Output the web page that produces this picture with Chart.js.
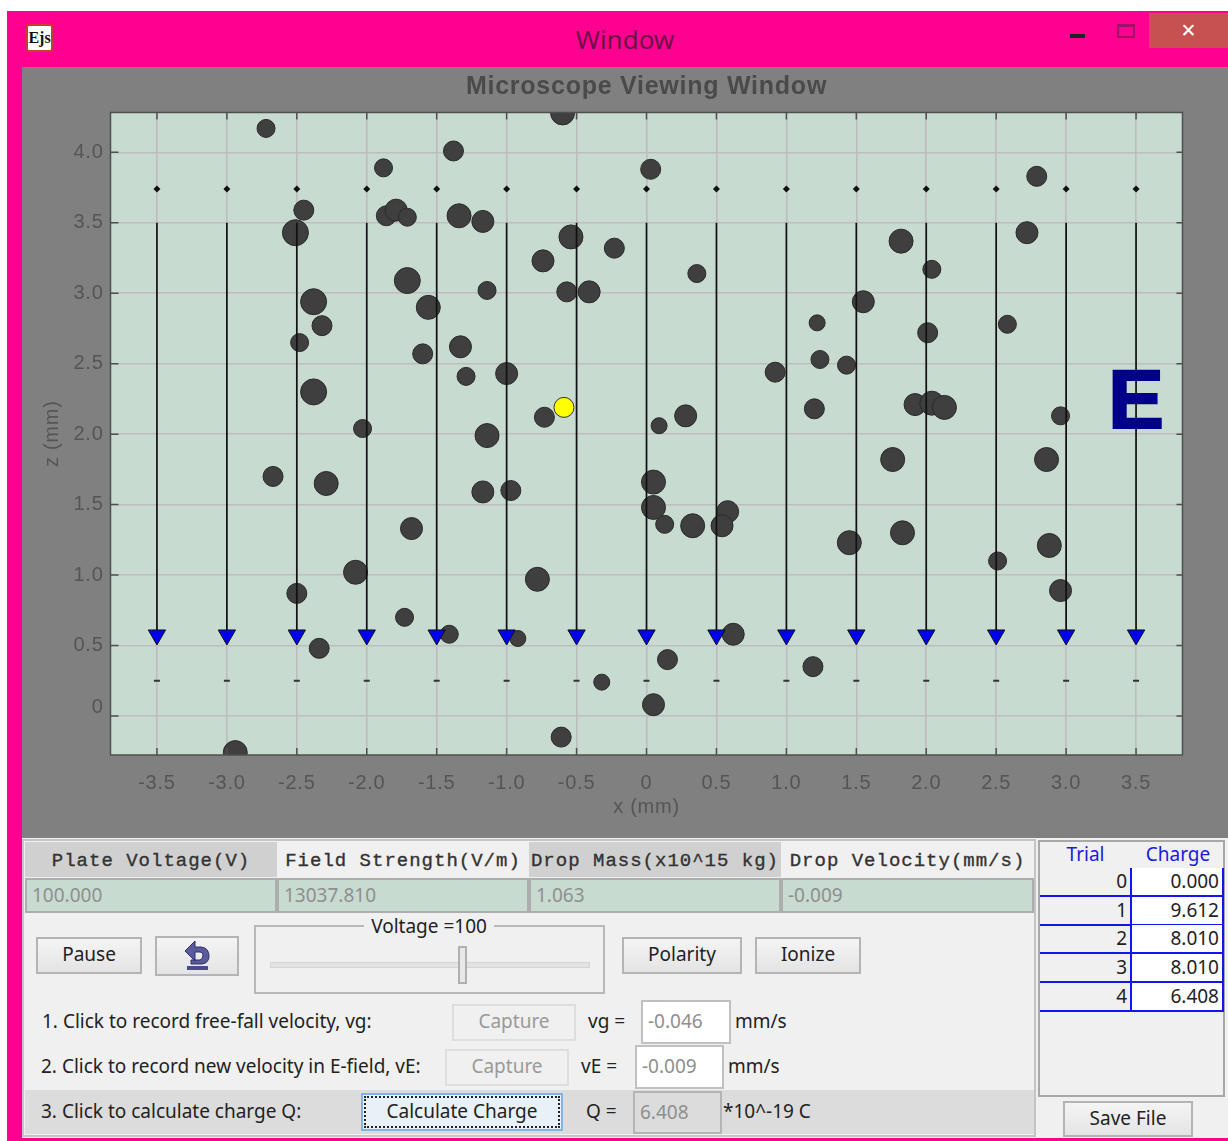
<!DOCTYPE html>
<html>
<head>
<meta charset="utf-8">
<title>Window</title>
<script src="https://cdn.jsdelivr.net/npm/chart.js@4"></script>
<style>
html, body { margin: 0; padding: 0; background: #fff; overflow: hidden; }
#root { position: relative; width: 1228px; height: 1141px; overflow: hidden; filter: blur(0.45px);
  font-family: "Noto Sans", sans-serif; font-size: 19px; color: #222; }
#root div, #root span { position: absolute; box-sizing: border-box; white-space: nowrap; }
.btn { background: linear-gradient(#f4f4f4, #e4e4e4); border: 2px solid #b4b4b4; text-align: center; display: flex; align-items: center; justify-content: center; padding-bottom: 3px; }
.dis { color: #9a9a9a; background: #f0f0f0; border: 2px solid #dedede; }
.lab { line-height: 24px; }
.hdr { font-family: "Liberation Mono", monospace; font-size: 19px; letter-spacing: 1px; color: #333; line-height: 38px; text-align: center; -webkit-text-stroke: 0.35px #333; }
.val { background: #c8dbd0; border: 2px solid #adadad; color: #8f8f8f; padding-left: 5px; line-height: 31px; }
.inp { background: #fff; border: 2px solid #c0c0c0; color: #8f8f8f; padding-left: 5px; line-height: 38px; }
.tcell { text-align: right; padding-right: 3px; line-height: 27px; }
</style>
</head>
<body>
<div id="root">
  <!-- title bar -->
  <div style="left:7px;top:11px;width:1221px;height:1130px;background:#ff0090"></div>
  <div style="left:26px;top:24px;width:27px;height:28px;background:#fff;border:2px solid #c8402c;border-radius:3px;font:bold 16px 'Liberation Serif',serif;color:#111;text-align:center;line-height:23px">Ejs</div>
  <div style="left:525px;top:21px;width:200px;text-align:center;font:26px 'Noto Sans',sans-serif;line-height:36px;color:#6e1048">Window</div>
  <div style="left:1070px;top:34px;width:15px;height:4px;background:#222"></div>
  <div style="left:1117px;top:24px;width:18px;height:14px;border:2px solid #a3106a;border-top-width:3px"></div>
  <div style="left:1149px;top:13px;width:79px;height:35px;background:#c75050;color:#fff;text-align:center;font:19px 'DejaVu Sans',sans-serif;line-height:35px">✕</div>

  <!-- viewer panel -->
  <div style="left:22px;top:67px;width:1206px;height:771px;background:#808080"></div>
  <div style="left:22px;top:67px;width:1206px;height:771px"><canvas id="viewer" width="1206" height="771"></canvas></div>

  <!-- controls -->
  <div style="left:22px;top:838px;width:1206px;height:300px;background:#f0f0f0"></div>
  <div style="left:22px;top:839px;width:1014px;height:298px;border:2px solid #c4c4c4"></div>
  <div id="headers"></div>
  <div style="left:36px;top:937px;width:106px;height:37px" class="btn">Pause</div>
  <div style="left:155px;top:936px;width:84px;height:40px;padding-bottom:0" class="btn">
    <svg width="28" height="32" viewBox="0 0 28 32" style="display:block"><path d="M2 11 L12 1 L12 7 L18 7 Q26 8 26 16 Q26 23 19 24 L8 24 L8 20 L17 20 Q20 19 20 15 Q20 12 17 12 L12 12 L12 21 Z" fill="#5a5a9c" stroke="#2e2e70"/><rect x="4" y="26" width="21" height="4" fill="#4a4a8c"/></svg>
  </div>
  <div style="left:254px;top:925px;width:351px;height:69px;border:2px solid #b8b8b8"></div>
  <div style="left:364px;top:914px;width:130px;text-align:center;background:#f0f0f0;line-height:24px">Voltage =100</div>
  <div style="left:270px;top:962px;width:320px;height:6px;background:#e2e2e2;border:1px solid #d4d4d4"></div>
  <div style="left:458px;top:946px;width:9px;height:38px;background:#e8e8e8;border:2px solid #b0b0b0"></div>
  <div style="left:622px;top:937px;width:120px;height:37px" class="btn">Polarity</div>
  <div style="left:755px;top:937px;width:106px;height:37px" class="btn">Ionize</div>

  <div class="lab" style="left:42px;top:1009px">1. Click to record free-fall velocity, vg:</div>
  <div class="btn dis" style="left:452px;top:1004px;width:124px;height:37px;background:#f0f0f0;border-color:#dedede">Capture</div>
  <div class="lab" style="left:588px;top:1009px">vg =</div>
  <div class="inp" style="left:641px;top:1000px;width:90px;height:44px">-0.046</div>
  <div class="lab" style="left:735px;top:1009px">mm/s</div>

  <div class="lab" style="left:41px;top:1054px">2. Click to record new velocity in E-field, vE:</div>
  <div class="btn dis" style="left:445px;top:1049px;width:124px;height:37px;background:#f0f0f0;border-color:#dedede">Capture</div>
  <div class="lab" style="left:581px;top:1054px">vE =</div>
  <div class="inp" style="left:635px;top:1045px;width:89px;height:44px">-0.009</div>
  <div class="lab" style="left:728px;top:1054px">mm/s</div>

  <div style="left:25px;top:1090px;width:1009px;height:44px;background:#dcdcdc"></div>
  <div class="lab" style="left:41px;top:1099px">3. Click to calculate charge Q:</div>
  <div class="btn" style="left:361px;top:1093px;width:202px;height:38px;background:#e8f0f8;border-color:#7fb4ea;outline:2px dotted #222;outline-offset:-5px">Calculate Charge</div>
  <div class="lab" style="left:586px;top:1099px">Q =</div>
  <div class="inp" style="left:633px;top:1091px;width:89px;height:43px;background:#dcdcdc;border-color:#b4b4b4">6.408</div>
  <div class="lab" style="left:723px;top:1099px">*10^-19 C</div>

  <!-- trial table -->
  <div style="left:1038px;top:840px;width:187px;height:257px;border:2px solid #a8a8a8;background:#f0f0f0"></div>
  <div id="table"></div>
  <div class="btn" style="left:1063px;top:1101px;width:130px;height:36px">Save File</div>
</div>

<script>
// ======================
// DATA
// ======================
const xTicks = [-3.5, -3.0, -2.5, -2.0, -1.5, -1.0, -0.5, 0, 0.5, 1.0, 1.5, 2.0, 2.5, 3.0, 3.5];
const zTicks = [0, 0.5, 1.0, 1.5, 2.0, 2.5, 3.0, 3.5, 4.0];

// oil drops
const dropX = [-2.72, -0.60, -1.38, -1.88, 0.03, 2.79, -2.45, -1.86, -1.79, -1.71, -2.51, -1.34, -1.17, 2.72, -0.54, -0.23, -0.74, 1.82, 2.04, 0.36,
  -1.71, -1.14, -0.57, -0.41, -2.38, -1.56, 1.55, -2.32, 1.22, 2.58, 2.01, -2.48, -1.33, -1.60, 1.24, -1.29, 1.43, -1.00, 0.92, -2.38,
  1.92, 2.04, 2.13, 2.96, 1.20, -0.73, 0.28, 0.09, -2.03, -1.14, -2.67, -2.29, 1.76, 2.86, 0.05, -1.17, -0.97, 0.05, 0.58, 0.13,
  0.33, 0.54, -1.68, 1.45, 1.83, 2.88, 2.51, -2.08, -0.78, 2.96, -2.50, -1.73, -1.41, -0.92, 0.62, -2.34, 0.15, 1.19, -0.32, 0.05, -0.61, -2.94];
const dropZ = [4.17, 4.28, 4.01, 3.89, 3.88, 3.83, 3.59, 3.55, 3.59, 3.54, 3.43, 3.55, 3.51, 3.43, 3.40, 3.32, 3.23, 3.37, 3.17, 3.14,
  3.09, 3.02, 3.01, 3.01, 2.94, 2.90, 2.94, 2.77, 2.79, 2.78, 2.72, 2.65, 2.62, 2.57, 2.53, 2.41, 2.49, 2.43, 2.44, 2.30,
  2.21, 2.22, 2.19, 2.13, 2.18, 2.12, 2.13, 2.06, 2.04, 1.99, 1.70, 1.65, 1.82, 1.82, 1.66, 1.59, 1.60, 1.48, 1.45, 1.36,
  1.35, 1.35, 1.33, 1.23, 1.30, 1.21, 1.10, 1.02, 0.97, 0.89, 0.87, 0.70, 0.58, 0.55, 0.58, 0.48, 0.40, 0.35, 0.24, 0.08, -0.15, -0.26];
const dropSize = [9, 12, 10, 9, 10, 10, 10, 10, 11, 9, 13, 12, 11, 11, 12, 10, 11, 12, 9, 9,
  13, 9, 10, 11, 13, 12, 11, 10, 8, 9, 10, 9, 11, 10, 9, 9, 9, 11, 10, 13,
  11, 12, 12, 9, 10, 10, 11, 8, 9, 12, 10, 12, 12, 12, 12, 11, 10, 12, 11, 9,
  12, 11, 11, 12, 12, 12, 9, 12, 12, 11, 10, 9, 9, 8, 11, 10, 10, 10, 8, 11, 10, 12];

// selected drop
const selectedX = [-0.59];
const selectedZ = [2.19];
const selectedSize = [10];

// field lines
const fieldX = [-3.5, -3.0, -2.5, -2.0, -1.5, -1.0, -0.5, 0, 0.5, 1.0, 1.5, 2.0, 2.5, 3.0, 3.5];
const fieldTop = 3.5;
const fieldBottom = 0.6;
const arrowZ = 0.575;
const upperPlateZ = 3.74;
const lowerPlateZ = 0.25;

// panel values
const headerLabels = ["Plate Voltage(V)", "Field Strength(V/m)", "Drop Mass(x10^15 kg)", "Drop Velocity(mm/s)"];
const headerValues = ["100.000", "13037.810", "1.063", "-0.009"];
const trials = [0, 1, 2, 3, 4];
const charges = ["0.000", "9.612", "8.010", "8.010", "6.408"];


// ======================
// PANEL TABLES
// ======================
function addDiv(parent, cls, css, text) {
    const d = document.createElement("div");
    d.className = cls;
    d.style.cssText = css;
    d.textContent = text;
    parent.appendChild(d);
}

const headers = document.getElementById("headers");
const colLeft = [25, 277, 529, 781];
const colWidth = [252, 252, 252, 253];
headerLabels.forEach((t, i) => {
    const bg = i % 2 === 0 ? "#d0d0d0" : "#f0f0f0";
    addDiv(headers, "hdr", `left:${colLeft[i]}px;top:842px;width:${colWidth[i]}px;height:35px;background:${bg}`, t);
    addDiv(headers, "val", `left:${colLeft[i]}px;top:878px;width:${colWidth[i]}px;height:35px`, headerValues[i]);
});

const table = document.getElementById("table");
addDiv(table, "", "left:1040px;top:842px;width:91px;height:26px;background:#f0f0f0;color:#1a1ae0;text-align:center;line-height:24px", "Trial");
addDiv(table, "", "left:1133px;top:842px;width:90px;height:26px;background:#f0f0f0;color:#1a1ae0;text-align:center;line-height:24px", "Charge");
trials.forEach((t, i) => {
    const top = 868 + i * 28.7;
    addDiv(table, "tcell", `left:1040px;top:${top}px;width:92px;height:29px;border-bottom:2px solid #1414f0;border-right:2px solid #1414f0`, t);
    addDiv(table, "tcell", `left:1132px;top:${top}px;width:92px;height:29px;background:#fff;border-bottom:2px solid #1414f0;border-right:2px solid #1414f0`, charges[i]);
});


// ======================
// PLOT EXTRAS
// ======================
const plotFrame = {
    id: "plotFrame",
    beforeDraw(chart) {
        const a = chart.chartArea, c = chart.ctx;
        c.letterSpacing = "0.75px";
        c.save();
        c.fillStyle = "#c8dbd0";
        c.fillRect(a.left, a.top, a.width, a.height);
        c.restore();
    },
    afterDraw(chart) {
        const a = chart.chartArea, c = chart.ctx;
        const xs = chart.scales.x, ys = chart.scales.y;
        c.save();
        c.strokeStyle = "#4f4f4f";
        c.lineWidth = 1.5;
        c.strokeRect(a.left, a.top, a.width, a.height);
        c.beginPath();
        xTicks.forEach(v => {
            const p = xs.getPixelForValue(v);
            c.moveTo(p, a.top); c.lineTo(p, a.top + 7);
            c.moveTo(p, a.bottom); c.lineTo(p, a.bottom - 7);
        });
        zTicks.forEach(v => {
            const p = ys.getPixelForValue(v);
            c.moveTo(a.left, p); c.lineTo(a.left + 8, p);
            c.moveTo(a.right, p); c.lineTo(a.right - 6, p);
        });
        c.stroke();
        // field label
        c.fillStyle = "#00008b";
        c.strokeStyle = "#00008b";
        c.lineWidth = 2;
        c.letterSpacing = "0px";
        c.font = "bold 84px 'Liberation Sans', sans-serif";
        c.textAlign = "center";
        c.textBaseline = "middle";
        c.fillText("E", xs.getPixelForValue(3.5), ys.getPixelForValue(2.21));
        c.strokeText("E", xs.getPixelForValue(3.5), ys.getPixelForValue(2.21));
        c.restore();
    }
};


// ======================
// CHART
// ======================
const lineSets = fieldX.map(x => ({
    type: "scatter",
    showLine: true,
    order: 1,
    data: [{ x: x, y: fieldTop }, { x: x, y: fieldBottom }],
    borderColor: "#111",
    borderWidth: 1.7,
    pointRadius: 0
}));

new Chart(document.getElementById("viewer"), {
    type: "scatter",
    plugins: [plotFrame],
    data: {
        datasets: [
            {
                type: "bubble",
                order: 4,
                data: dropX.map((x, i) => ({ x: x, y: dropZ[i], r: dropSize[i] })),
                backgroundColor: "#3f3f3f",
                borderColor: "#2a2a2a",
                borderWidth: 1
            },
            {
                type: "bubble",
                order: 3,
                data: selectedX.map((x, i) => ({ x: x, y: selectedZ[i], r: selectedSize[i] })),
                backgroundColor: "#ffff00",
                borderColor: "#333",
                borderWidth: 1
            },
            ...lineSets,
            {
                order: 0,
                data: fieldX.map(x => ({ x: x, y: arrowZ })),
                pointStyle: "triangle",
                rotation: 180,
                pointRadius: 10,
                backgroundColor: "#0000f0",
                borderColor: "#111",
                borderWidth: 1
            },
            {
                order: 0,
                data: fieldX.map(x => ({ x: x, y: upperPlateZ })),
                pointStyle: "rectRot",
                pointRadius: 3.5,
                backgroundColor: "#111",
                borderColor: "#111",
                borderWidth: 0
            },
            {
                order: 0,
                data: fieldX.map(x => ({ x: x, y: lowerPlateZ })),
                pointStyle: "line",
                pointRadius: 3,
                borderColor: "#333",
                borderWidth: 2
            }
        ]
    },
    options: {
        responsive: false,
        animation: false,
        layout: { padding: { right: 45.5 } },
        plugins: {
            legend: { display: false },
            tooltip: { enabled: false },
            title: {
                display: true,
                text: "Microscope Viewing Window",
                fullSize: false,
                color: "#4a4a4a",
                font: { family: "'Liberation Sans', sans-serif", size: 25, weight: "bold" },
                padding: { top: 5, bottom: 10.5 }
            }
        },
        scales: {
            x: {
                type: "linear",
                min: -3.832,
                max: 3.832,
                afterBuildTicks: s => { s.ticks = xTicks.map(v => ({ value: v })); },
                afterFit: s => { s.height = 83; },
                grid: { color: "#bdbdbd", lineWidth: 1.6, drawTicks: false },
                border: { display: false },
                ticks: {
                    color: "#555",
                    padding: 16,
                    maxRotation: 0,
                    autoSkip: false,
                    font: { family: "'Liberation Sans', sans-serif", size: 20 },
                    callback: v => v === 0 ? "0" : v.toFixed(1)
                },
                title: {
                    display: true,
                    text: "x (mm)",
                    color: "#555",
                    font: { family: "'Liberation Sans', sans-serif", size: 20 },
                    padding: { top: 0, bottom: 19 }
                }
            },
            y: {
                type: "linear",
                min: -0.277,
                max: 4.283,
                afterBuildTicks: s => { s.ticks = zTicks.map(v => ({ value: v })); },
                afterFit: s => { s.width = 88.5; },
                grid: { color: "#bdbdbd", lineWidth: 1.6, drawTicks: false },
                border: { display: false },
                ticks: {
                    color: "#555",
                    padding: 7,
                    autoSkip: false,
                    // the "0" label sits above its grid line in the original
                    font: { family: "'Liberation Sans', sans-serif", size: 20, lineHeight: 0.8 },
                    callback: v => v === 0 ? ["0", ""] : v.toFixed(1)
                },
                title: {
                    display: true,
                    text: "z (mm)",
                    color: "#555",
                    font: { family: "'Liberation Sans', sans-serif", size: 20 },
                    padding: { top: 18, bottom: 0 }
                }
            }
        }
    }
});
</script>
</body>
</html>
